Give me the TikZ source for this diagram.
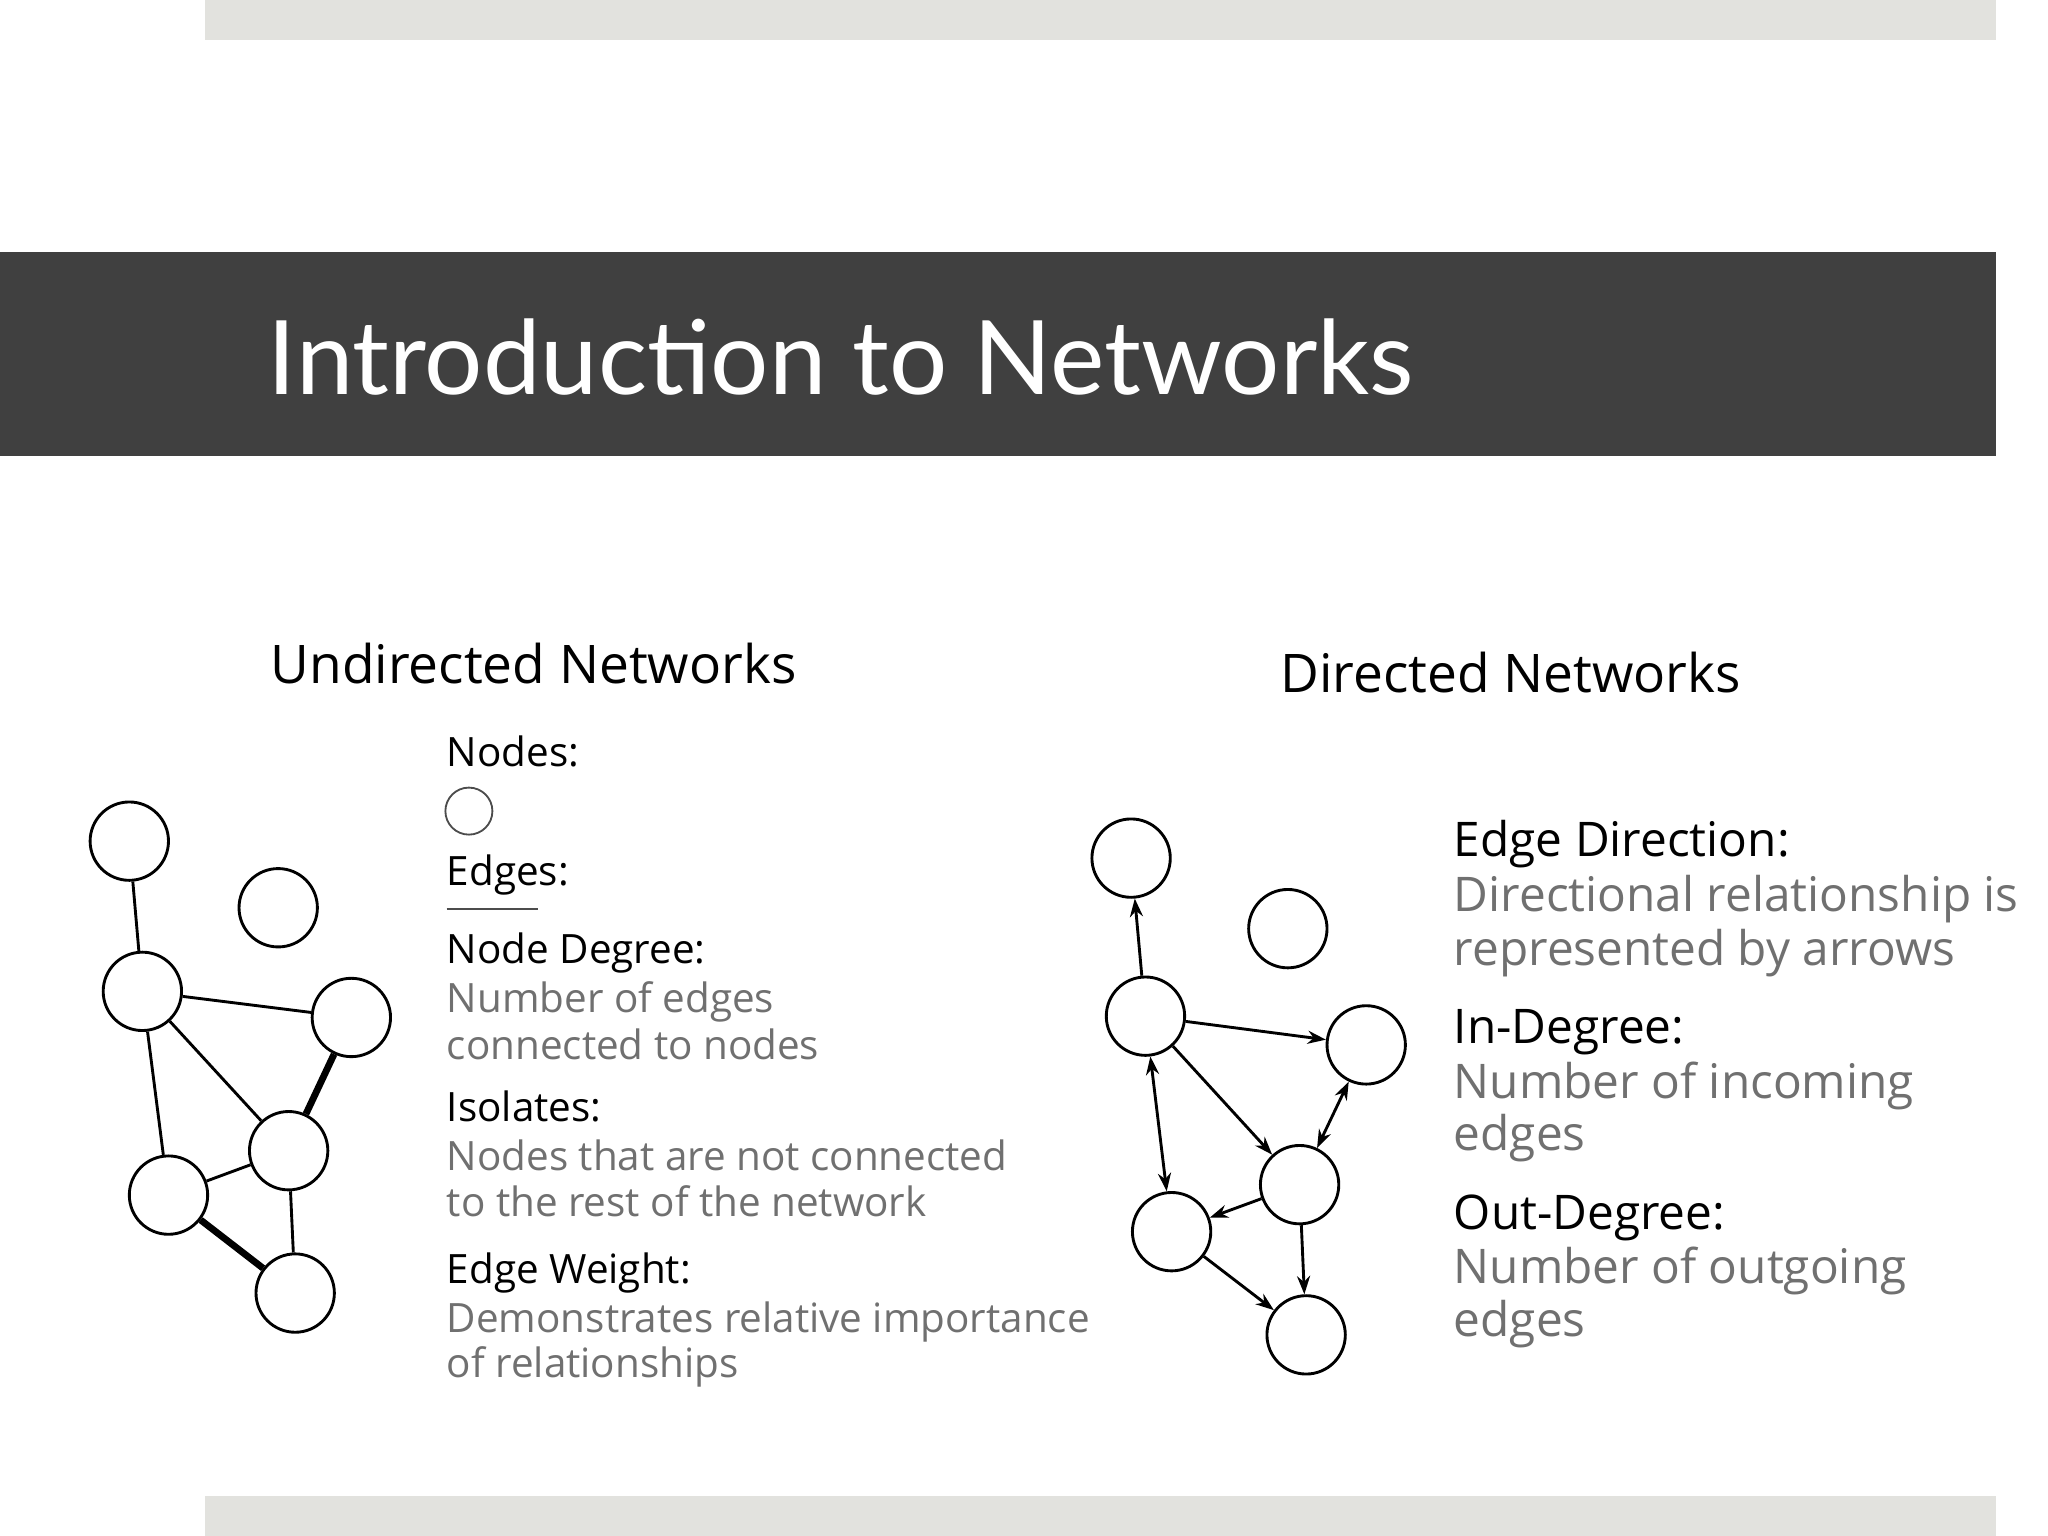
\documentclass[tikz,border=0pt]{standalone}
\usepackage{fontspec}
\setmainfont{Open Sans}
\newfontfamily\titlefont{Lato}
\usetikzlibrary{arrows.meta}
\definecolor{band}{HTML}{404040}
\definecolor{bar}{HTML}{E2E2DE}
\definecolor{txtgray}{HTML}{707070}
\tikzset{
 nd/.style={circle,draw=black,line width=1.1mm,minimum size=30mm,inner sep=0pt},
 ed/.style={line width=1.1mm},
 hv/.style={line width=2.6mm},
 ar/.style={line width=1.1mm,-{Stealth[length=7mm,width=5mm]}},
 ar2/.style={line width=1.1mm,{Stealth[length=7mm,width=5mm]}-{Stealth[length=7mm,width=5mm]}},
 lt/.style={anchor=base west,inner sep=0pt,font=\fontsize{44}{50}\selectfont},
 rt/.style={anchor=base west,inner sep=0pt,font=\fontsize{52}{58}\selectfont},
}
\begin{document}
\begin{tikzpicture}[x=0.5mm,y=-0.5mm]
\useasboundingbox (0,0) rectangle (1568,1176);
\fill[white] (0,0) rectangle (1568,1176);
\fill[bar] (157,0) rectangle (1528,31);
\fill[bar] (157,1145) rectangle (1528,1176);
\fill[band] (0,193) rectangle (1528,349);
\node[anchor=base west,inner sep=0pt,text=white,font=\titlefont\fontsize{112}{120}\selectfont] (title) at (205,302) {Introduction to Networks};
% undirected
\node[anchor=base west,inner sep=0pt,font=\fontsize{58}{64}\selectfont] (ut) at (207,523) {Undirected Networks};
\node[nd] (A) at (99,644) {};
\node[nd] (B) at (213,695) {};
\node[nd] (C) at (109,759) {};
\node[nd] (D) at (269,779) {};
\node[nd] (E) at (221,881) {};
\node[nd] (F) at (129,915) {};
\node[nd] (G) at (226,990) {};
\draw[ed] (A)--(C); \draw[ed] (C)--(D); \draw[ed] (C)--(E); \draw[ed] (C)--(F);
\draw[hv] (D)--(E); \draw[ed] (E)--(F); \draw[hv] (F)--(G); \draw[ed] (E)--(G);
\node[lt] (l1) at (342,587) {Nodes:};
\node[circle,draw=black!70,line width=0.7mm,minimum size=18mm,inner sep=0pt] (ln) at (359,621) {};
\node[lt] (l2) at (342,678) {Edges:};
\coordinate (e1) at (342,696); \coordinate (e2) at (412,696);
\draw[line width=0.7mm,black!70] (e1)--(e2);
\node[lt] (l3) at (342,738) {Node Degree:};
\node[lt,text=txtgray] (l4) at (342,775) {Number of edges};
\node[lt,text=txtgray] (l5) at (342,811) {connected to nodes};
\node[lt] (l6) at (342,859) {Isolates:};
\node[lt,text=txtgray] (l7) at (342,896) {Nodes that are not connected};
\node[lt,text=txtgray] (l8) at (342,931) {to the rest of the network};
\node[lt] (l9) at (342,983) {Edge Weight:};
\node[lt,text=txtgray] (l10) at (342,1020) {Demonstrates relative importance};
\node[lt,text=txtgray] (l11) at (342,1055) {of relationships};
% directed
\node[anchor=base west,inner sep=0pt,font=\fontsize{58}{64}\selectfont] (dt) at (980,530) {Directed Networks};
\node[nd] (a) at (866,657) {};
\node[nd] (b) at (986,711) {};
\node[nd] (c) at (877,778) {};
\node[nd] (d) at (1046,800) {};
\node[nd] (e) at (995,907) {};
\node[nd] (f) at (897,943) {};
\node[nd] (g) at (1000,1022) {};
\draw[ar] (c)--(a); \draw[ar] (c)--(d); \draw[ar] (c)--(e); \draw[ar2] (c)--(f);
\draw[ar2] (d)--(e); \draw[ar] (e)--(f); \draw[ar] (f)--(g); \draw[ar] (e)--(g);
\node[rt] (r1) at (1113,656) {Edge Direction:};
\node[rt,text=txtgray] (r2) at (1113,698) {Directional relationship is};
\node[rt,text=txtgray] (r3) at (1113,739) {represented by arrows};
\node[rt] (r4) at (1113,799) {In-Degree:};
\node[rt,text=txtgray] (r5) at (1113,841) {Number of incoming};
\node[rt,text=txtgray] (r6) at (1113,881) {edges};
\node[rt] (r7) at (1113,941) {Out-Degree:};
\node[rt,text=txtgray] (r8) at (1113,983) {Number of outgoing};
\node[rt,text=txtgray] (r9) at (1113,1023) {edges};
\end{tikzpicture}
\end{document}
